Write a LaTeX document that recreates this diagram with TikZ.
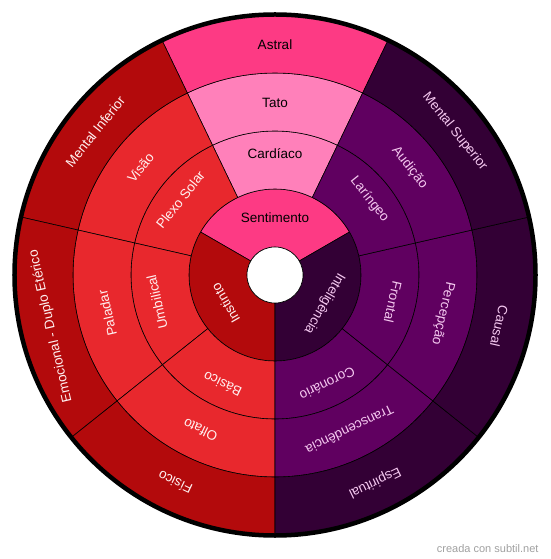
\documentclass[tikz,border=0pt]{standalone}
\usepackage{fontspec}
\setmainfont{Liberation Sans}
\definecolor{hotpink}{HTML}{FD3A84}
\definecolor{lightpink}{HTML}{FF80BA}
\definecolor{darkred}{HTML}{B30A0C}
\definecolor{midred}{HTML}{E8282D}
\definecolor{darkpurple}{HTML}{330035}
\definecolor{midpurple}{HTML}{600060}
\definecolor{txtwhite}{HTML}{FFF0F0}
\definecolor{txtpink}{HTML}{F5C8F0}
\definecolor{wmgray}{HTML}{A0A0A0}
\newcommand\ringseg[5]{%
  \filldraw[fill=#1, draw=black, line width=0.6pt] (#4:#2) arc[start angle=#4, end angle=#5, radius=#2] -- (#5:#3) arc[start angle=#5, end angle=#4, radius=#3] -- cycle;}
\tikzset{
  lab/.style={font=\fontsize{13.5}{16}\selectfont, inner sep=0pt, anchor=center},
}
\begin{document}
\begin{tikzpicture}[x=1pt,y=1pt]
\useasboundingbox (-275,-284) rectangle (275,275);
% inner ring
\ringseg{hotpink}{28}{86}{30}{150}
\ringseg{darkred}{28}{86}{150}{270}
\ringseg{darkpurple}{28}{86}{270}{390}
\node[lab, text=black] (sent) at (90:57) {Sentimento};
\node[lab, text=txtwhite, rotate=120] (inst) at (210:57) {Instinto};
\node[lab, text=txtpink, rotate=240] (intel) at (330:57) {Inteligência};
% outer rings
\foreach \k/\ca/\cb/\tc/\la/\lb/\lc in {
  0/lightpink/hotpink/black/Cardíaco/Tato/Astral,
  1/midred/darkred/txtwhite/Plexo Solar/Visão/Mental Inferior,
  2/midred/darkred/txtwhite/Umbilical/Paladar/Emocional - Duplo Etérico,
  3/midred/darkred/txtwhite/Básico/Olfato/Físico,
  4/midpurple/darkpurple/txtpink/Coronário/Transcendência/Espiritual,
  5/midpurple/darkpurple/txtpink/Frontal/Percepção/Causal,
  6/midpurple/darkpurple/txtpink/Laríngeo/Audição/Mental Superior}{
  \pgfmathsetmacro\mid{90+\k*360/7}
  \pgfmathsetmacro\aa{\mid-180/7}
  \pgfmathsetmacro\ab{\mid+180/7}
  \pgfmathsetmacro\rot{\mid-90}
  \ringseg{\ca}{86}{144}{\aa}{\ab}
  \ringseg{\ca}{144}{202}{\aa}{\ab}
  \ringseg{\cb}{202}{260}{\aa}{\ab}
  \node[lab, text=\tc, rotate=\rot] (ra\k) at (\mid:121) {\la};
  \node[lab, text=\tc, rotate=\rot] (rb\k) at (\mid:172) {\lb};
  \node[lab, text=\tc, rotate=\rot] (rc\k) at (\mid:230) {\lc};
}
% hole and border
\filldraw[fill=white, draw=black, line width=0.6pt] (0,0) circle[radius=28];
\draw[black, line width=4.5pt] (0,0) circle[radius=260.5];
\node[font=\fontsize{11}{13}\selectfont, text=wmgray, inner sep=0pt] (wm) at (212.7,-273.3) {creada con subtil.net};
\end{tikzpicture}
\end{document}
